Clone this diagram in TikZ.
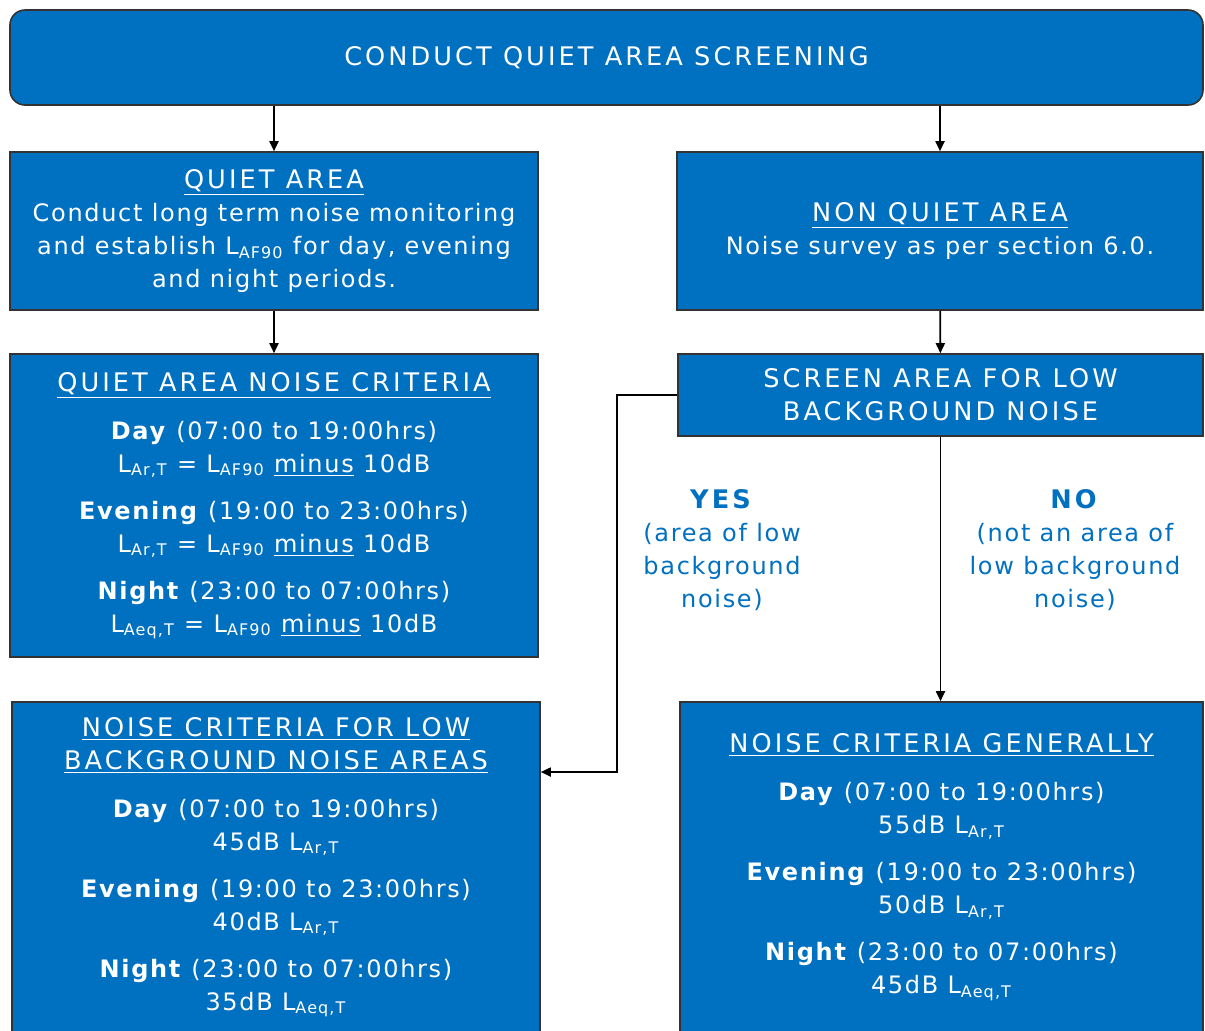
\documentclass[tikz,border=0pt]{standalone}
\usepackage{fontspec}
\setmainfont[LetterSpace=7]{DejaVu Sans}
\newfontfamily\capsfont[LetterSpace=12]{DejaVu Sans}
\usetikzlibrary{arrows.meta}
\definecolor{boxblue}{HTML}{0070C0}
\newcommand{\lev}[1]{L\textsubscript{#1}}
\newcommand{\head}[1]{{\capsfont\fontsize{12.8}{16.5}\selectfont #1}}
\begin{document}
\begin{tikzpicture}[x=0.5pt, y=-0.5pt,
	blue box/.style = {draw = black!80, line width = 0.8pt, fill = boxblue, text = white, align = center, inner sep = 0pt, font = \fontsize{12}{16.5}\selectfont},
	answer/.style = {text = boxblue, align = center, font = \fontsize{12}{16.5}\selectfont},
	flow/.style = {line width = 0.9pt, -{Triangle[length = 5pt, width = 4.5pt]}}]
	\useasboundingbox (0,0) rectangle (1205,1030);
	% boxes
	\node [blue box, rounded corners = 7.5pt, minimum width = 596.5pt, minimum height = 47.5pt] (screening) at (606.5,57.5) {\head{CONDUCT QUIET AREA SCREENING}};
	\node [blue box, minimum width = 264pt, minimum height = 79pt] (quiet) at (274,231)
		{\underline{\head{QUIET AREA}}\\Conduct long term noise monitoring\\and establish \lev{AF90} for day, evening\\and night periods.};
	\node [blue box, minimum width = 263pt, minimum height = 79pt] (nonquiet) at (940,231)
		{\underline{\head{NON QUIET AREA}}\\Noise survey as per section 6.0.};
	\node [blue box, minimum width = 264pt, minimum height = 151.5pt] (quietcrit) at (274,505.5)
		{\underline{\head{QUIET AREA NOISE CRITERIA}}\\[7.5pt]
		\textbf{Day} (07:00 to 19:00hrs)\\\lev{Ar,T} = \lev{AF90} \underline{minus} 10dB\\[7pt]
		\textbf{Evening} (19:00 to 23:00hrs)\\\lev{Ar,T} = \lev{AF90} \underline{minus} 10dB\\[7pt]
		\textbf{Night} (23:00 to 07:00hrs)\\\lev{Aeq,T} = \lev{AF90} \underline{minus} 10dB};
	\node [blue box, minimum width = 262.5pt, minimum height = 41pt] (screen) at (940.5,395)
		{\head{SCREEN AREA FOR LOW}\\\head{BACKGROUND NOISE}};
	\node [blue box, minimum width = 264pt, minimum height = 165pt] (lowcrit) at (276,867)
		{\underline{\head{NOISE CRITERIA FOR LOW}}\\\underline{\head{BACKGROUND NOISE AREAS}}\\[7.5pt]
		\textbf{Day} (07:00 to 19:00hrs)\\45dB \lev{Ar,T}\\[7pt]
		\textbf{Evening} (19:00 to 23:00hrs)\\40dB \lev{Ar,T}\\[7pt]
		\textbf{Night} (23:00 to 07:00hrs)\\35dB \lev{Aeq,T}};
	\node [blue box, minimum width = 261.5pt, minimum height = 165pt] (gencrit) at (941.5,867)
		{\underline{\head{NOISE CRITERIA GENERALLY}}\\[7.5pt]
		\textbf{Day} (07:00 to 19:00hrs)\\55dB \lev{Ar,T}\\[7pt]
		\textbf{Evening} (19:00 to 23:00hrs)\\50dB \lev{Ar,T}\\[7pt]
		\textbf{Night} (23:00 to 07:00hrs)\\45dB \lev{Aeq,T}};
	% yes / no
	\node [answer] (yes) at (722,550) {\textbf{\head{YES}}\\(area of low\\background\\noise)};
	\node [answer] (no) at (1075,550) {\textbf{\head{NO}}\\(not an area of\\low background\\noise)};
	% arrows
	\draw [flow] (screening.south -| quiet.north) -- (quiet.north);
	\draw [flow] (screening.south -| nonquiet.north) -- (nonquiet.north);
	\draw [flow] (quiet) -- (quietcrit);
	\draw [flow] (nonquiet) -- (screen);
	\draw [flow] (screen.south) -- (screen.south |- gencrit.north);
	\coordinate (yesturn) at (617,772);
	\draw [flow] (screen.west) -| (yesturn) -- (yesturn -| lowcrit.east);
\end{tikzpicture}
\end{document}
